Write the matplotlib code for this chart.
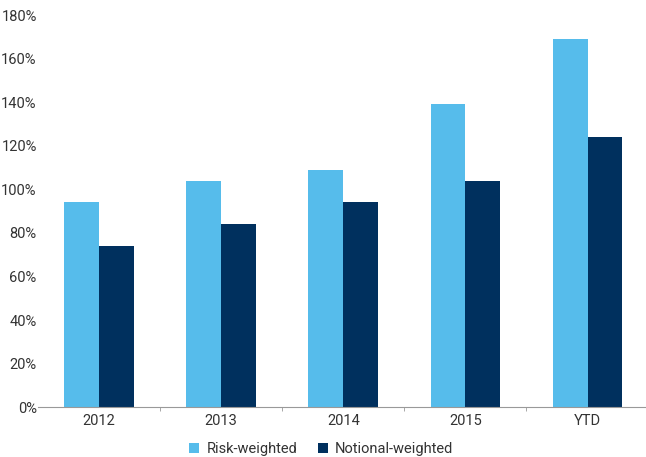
import matplotlib
matplotlib.use("Agg")
from matplotlib import pyplot as plt
from matplotlib.ticker import FuncFormatter
import numpy as np

categories = ["2012", "2013", "2014", "2015", "YTD"]
risk_weighted = [94, 104, 109, 139, 169]
notional_weighted = [74, 84, 94, 104, 124]

plt.rcParams['font.family'] = ['Roboto', 'DejaVu Sans']

fig = plt.figure(figsize=(6.46, 4.57), dpi=100)
ax = fig.add_axes([0.059, 0.109, 0.945, 0.858])

x = np.arange(len(categories))
w = 0.286
ax.bar(x - w/2, risk_weighted, w, color='#56BCEB', label='Risk-weighted')
ax.bar(x + w/2, notional_weighted, w, color='#00305E', label='Notional-weighted')

ax.set_xlim(-0.5, len(categories) - 0.5)
ax.set_ylim(0, 180)
ax.set_yticks(np.arange(0, 181, 20))
ax.yaxis.set_major_formatter(FuncFormatter(lambda v, p: f"{v:.0f}%"))
ax.tick_params(axis='y', length=0, pad=1, labelsize=10.5, colors='#333333')

ax.set_xticks(x)
ax.set_xticklabels(categories)
ax.set_xticks(np.arange(0.5, len(categories) - 1, 1), minor=True)
ax.tick_params(axis='x', which='major', length=0, pad=5, labelsize=10.5, colors='#333333')
ax.tick_params(axis='x', which='minor', length=3, color='#999999')

for s in ['top', 'right', 'left']:
    ax.spines[s].set_visible(False)
ax.spines['bottom'].set_color('#999999')

fig.legend(loc='lower center', bbox_to_anchor=(0.497, -0.026), ncol=2, frameon=False,
           fontsize=10.5, handlelength=0.7, handleheight=0.7, columnspacing=1.4,
           handletextpad=0.5, labelcolor='#333333')

fig.savefig("out.png", dpi=100)
